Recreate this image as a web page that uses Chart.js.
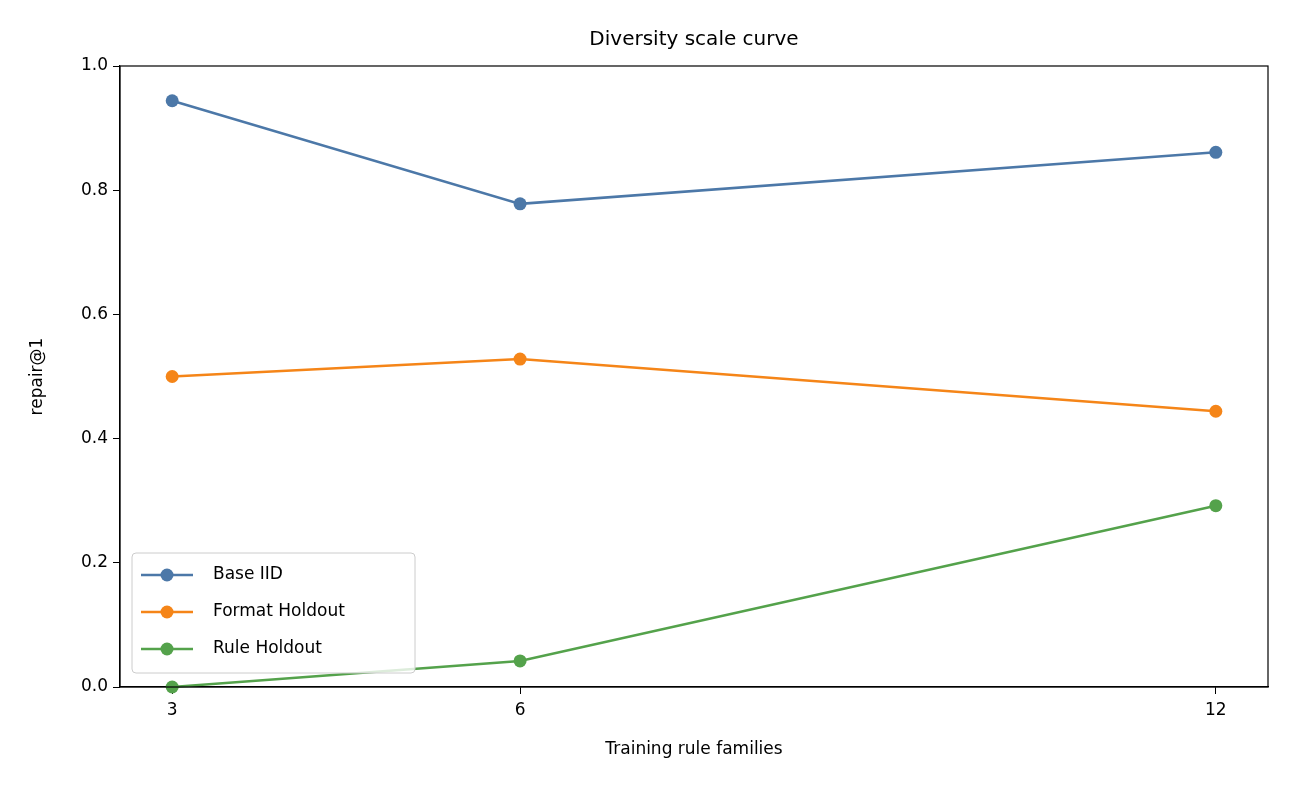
<!DOCTYPE html>
<html><head><meta charset="utf-8">
<script src="https://cdn.jsdelivr.net/npm/chart.js@4"></script>
<style>html,body{margin:0;padding:0;background:#fff}#wrap{width:1296px;height:792px}</style>
</head><body><div id="wrap"><canvas id="c" width="1296" height="792"></canvas></div>
<script>
const families = [3, 6, 12];
const baseIID = [0.944, 0.778, 0.861];
const formatHoldout = [0.500, 0.528, 0.444];
const ruleHoldout = [0.000, 0.042, 0.292];
const seriesNames = ['Base IID', 'Format Holdout', 'Rule Holdout'];
const colors = ['#4c78a8', '#f58518', '#54a24b'];
const FONT = 'DejaVu Sans';

function ds(name, vals, col) {
  return { label: name, data: families.map((x, i) => ({x, y: vals[i]})),
    borderColor: col, backgroundColor: col, borderWidth: 2.5,
    pointRadius: 6.5, pointHoverRadius: 6.5, pointBorderWidth: 0, clip: false, tension: 0 };
}

const frame = {
  id: 'frame',
  afterDraw(chart) {
    const ctx = chart.ctx, a = chart.chartArea;
    ctx.save();
    ctx.strokeStyle = '#000'; ctx.lineWidth = 1.2;
    ctx.strokeRect(a.left, a.top, a.right - a.left, a.bottom - a.top);
    ctx.fillStyle = '#000'; ctx.font = '20px ' + FONT;
    ctx.textAlign = 'center'; ctx.textBaseline = 'middle';
    ctx.fillText('Diversity scale curve', (a.left + a.right) / 2, 40);
    ctx.font = '17px ' + FONT;
    ctx.fillText('Training rule families', (a.left + a.right) / 2, 750);
    ctx.save();
    ctx.translate(38, (a.top + a.bottom) / 2); ctx.rotate(-Math.PI / 2);
    ctx.fillText('repair@1', 0, 0);
    ctx.restore();
    // legend
    const lx = a.left + 12, ly = a.bottom - 134, lw = 283, lh = 120;
    ctx.fillStyle = 'rgba(255,255,255,0.8)';
    ctx.strokeStyle = '#cccccc'; ctx.lineWidth = 1;
    ctx.beginPath(); ctx.roundRect(lx, ly, lw, lh, 4); ctx.fill(); ctx.stroke();
    ctx.font = '17px ' + FONT; ctx.textAlign = 'left';
    seriesNames.forEach((n, i) => {
      const y = ly + 22 + i * 37;
      ctx.strokeStyle = colors[i]; ctx.lineWidth = 2.5;
      ctx.beginPath(); ctx.moveTo(lx + 9, y); ctx.lineTo(lx + 61, y); ctx.stroke();
      ctx.fillStyle = colors[i];
      ctx.beginPath(); ctx.arc(lx + 35, y, 6.5, 0, Math.PI * 2); ctx.fill();
      ctx.fillStyle = '#000'; ctx.fillText(n, lx + 81, y);
    });
    ctx.restore();
  }
};

new Chart(document.getElementById('c'), {
  type: 'line',
  data: { datasets: [ds(seriesNames[0], baseIID, colors[0]), ds(seriesNames[1], formatHoldout, colors[1]), ds(seriesNames[2], ruleHoldout, colors[2])] },
  options: {
    responsive: false, animation: false, devicePixelRatio: 1,
    layout: { padding: { top: 66, right: 28, left: 0, bottom: 0 } },
    plugins: { legend: { display: false }, title: { display: false }, tooltip: { enabled: false } },
    scales: {
      x: { type: 'linear', min: 2.55, max: 12.45,
        afterBuildTicks: s => { s.ticks = families.map(v => ({value: v})); },
        afterFit: s => { s.height = 105; },
        grid: { color: 'transparent', tickColor: '#000', tickLength: 7, drawOnChartArea: false },
        border: { display: true, color: '#000', width: 1.2 },
        ticks: { color: '#000', font: { family: FONT, size: 17 }, padding: 6, maxRotation: 0 } },
      y: { min: 0, max: 1,
        afterFit: s => { s.width = 120; },
        grid: { color: 'transparent', tickColor: '#000', tickLength: 7, drawOnChartArea: false },
        border: { display: true, color: '#000', width: 1.2 },
        ticks: { stepSize: 0.2, color: '#000', font: { family: FONT, size: 17 }, padding: 5, callback: v => v.toFixed(1) } }
    }
  },
  plugins: [frame]
});
</script></body></html>
